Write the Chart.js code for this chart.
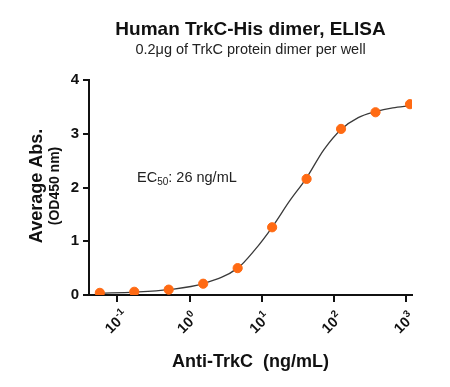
<!DOCTYPE html>
<html>
<head>
<meta charset="utf-8">
<script src="https://cdn.jsdelivr.net/npm/chart.js@4/dist/chart.umd.min.js"></script>
<style>
    html, body { margin: 0; padding: 0; background: #fff; }
    #wrap { width: 450px; height: 387px; }
</style>
</head>
<body>
<div id="wrap"><canvas id="elisaChart" width="450" height="387"></canvas></div>
<script>

// concentraciones (ng/mL) y absorbancias medidas
const concentraciones = [0.0572, 0.1715, 0.514, 1.543, 4.63, 13.89, 41.67, 125, 375, 1125];
const absorbancias = [0.04, 0.06, 0.10, 0.21, 0.50, 1.26, 2.16, 3.09, 3.40, 3.55];

// curva ajustada
const curvaX = [0.0572, 0.1715, 0.514, 1.543, 4.63, 8.0, 13.89, 24, 41.67, 72, 125, 216, 375, 650, 1125];
const curvaY = [0.035, 0.055, 0.10, 0.21, 0.50, 0.84, 1.26, 1.74, 2.18, 2.70, 3.08, 3.30, 3.41, 3.48, 3.52];

const ticksX = [0.1, 1, 10, 100, 1000];
const exponentesX = ["-1", "0", "1", "2", "3"];
const ticksY = [0, 1, 2, 3, 4];

const FUENTE = "'Liberation Sans', Arial, Helvetica, sans-serif";

const textosExtra = {
    id: "textosExtra",
    afterDraw(chart) {
        const ctx = chart.ctx;

        // etiquetas del eje X con superindice
        const escalaX = chart.scales.x;
        ticksX.forEach((v, i) => {
            const px = escalaX.getPixelForValue(v);
            ctx.save();
            ctx.translate(px + 2, 320);
            ctx.rotate(-Math.PI / 4);
            ctx.fillStyle = "#111";
            ctx.textBaseline = "middle";
            ctx.font = "bold 14.5px " + FUENTE;
            ctx.textAlign = "right";
            ctx.fillText("10", 0, 0);
            ctx.font = "bold 10px " + FUENTE;
            ctx.textAlign = "left";
            ctx.fillText(exponentesX[i], 0.5, -5);
            ctx.restore();
        });

        // titulo eje Y
        ctx.save();
        ctx.fillStyle = "#111";
        ctx.translate(37, 186);
        ctx.rotate(-Math.PI / 2);
        ctx.textAlign = "center";
        ctx.textBaseline = "middle";
        ctx.font = "bold 18px " + FUENTE;
        ctx.fillText("Average Abs.", 0, 0);
        ctx.font = "bold 14px " + FUENTE;
        ctx.fillText("(OD450 nm)", 0, 18);
        ctx.restore();

        // EC50
        ctx.save();
        ctx.fillStyle = "#222";
        ctx.textBaseline = "alphabetic";
        ctx.textAlign = "left";
        let x = 137;
        const y = 182;
        ctx.font = "14.5px " + FUENTE;
        ctx.fillText("EC", x, y);
        x += ctx.measureText("EC").width;
        ctx.font = "10px " + FUENTE;
        ctx.fillText("50", x, y + 3);
        x += ctx.measureText("50").width;
        ctx.font = "14.5px " + FUENTE;
        ctx.fillText(": 26 ng/mL", x, y);
        ctx.restore();
    }
};

const ctx = document.getElementById("elisaChart");

new Chart(ctx, {

    type: "scatter",

    data: {
        datasets: [
            {
                label: "Ajuste",
                type: "line",
                data: curvaX.map((x, i) => ({ x: x, y: curvaY[i] })),
                borderColor: "#3a3a3a",
                borderWidth: 1.3,
                pointRadius: 0,
                cubicInterpolationMode: "monotone",
                fill: false,
                order: 2
            },
            {
                label: "TrkC",
                data: concentraciones.map((x, i) => ({ x: x, y: absorbancias[i] })),
                backgroundColor: "#ff6a13",
                borderColor: "#ff6a13",
                pointRadius: 4.6,
                order: 1
            }
        ]
    },

    options: {
        responsive: false,
        animation: false,
        devicePixelRatio: 1,
        layout: {
            padding: { left: 0, right: 38, top: 0, bottom: 14 }
        },
        plugins: {
            legend: { display: false },
            tooltip: { enabled: false },
            title: {
                display: true,
                fullSize: false,
                text: "Human TrkC-His dimer, ELISA",
                color: "#111",
                font: { family: FUENTE, size: 19, weight: "bold" },
                padding: { top: 18, bottom: 0 }
            },
            subtitle: {
                display: true,
                fullSize: false,
                text: "0.2\u03BCg of TrkC protein dimer per well",
                color: "#222",
                font: { family: FUENTE, size: 14.5 },
                padding: { top: 0, bottom: 21.8 }
            }
        },
        scales: {
            x: {
                type: "logarithmic",
                min: 0.0405,
                max: 1200,
                afterBuildTicks: (scale) => {
                    scale.ticks = ticksX.map(v => ({ value: v, major: true }));
                },
                afterFit: (scale) => {
                    scale.height = 78;
                },
                ticks: {
                    display: false
                },
                grid: {
                    display: true,
                    drawOnChartArea: false,
                    drawTicks: true,
                    tickLength: 7,
                    color: "#111",
                    lineWidth: 2
                },
                border: { display: true, color: "#111", width: 2 },
                title: {
                    display: true,
                    text: "Anti-TrkC  (ng/mL)",
                    color: "#111",
                    font: { family: FUENTE, size: 18, weight: "bold" },
                    padding: { top: 0, bottom: 0 }
                }
            },
            y: {
                min: 0,
                max: 4,
                afterBuildTicks: (scale) => {
                    scale.ticks = ticksY.map(v => ({ value: v }));
                },
                afterFit: (scale) => {
                    scale.width = 89;
                },
                ticks: {
                    color: "#111",
                    font: { family: FUENTE, size: 15, weight: "bold" },
                    padding: 4
                },
                grid: {
                    display: true,
                    drawOnChartArea: false,
                    drawTicks: true,
                    tickLength: 6,
                    color: "#111",
                    lineWidth: 2
                },
                border: { display: true, color: "#111", width: 2 }
            }
        }
    },

    plugins: [textosExtra]
});

</script>
</body>
</html>
